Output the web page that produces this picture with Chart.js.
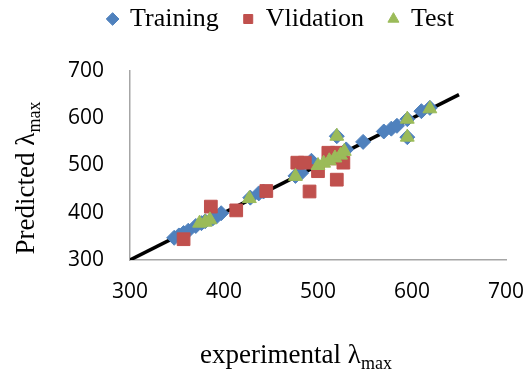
<!DOCTYPE html>
<html>
<head>
<meta charset="utf-8">
<script src="https://cdn.jsdelivr.net/npm/chart.js@4.4.1/dist/chart.umd.min.js"></script>
<style>
  html, body { margin: 0; padding: 0; background: #fff; }
  #wrap { width: 528px; height: 374px; }
</style>
</head>
<body>
<div id="wrap"><canvas id="chart" width="528" height="374"></canvas></div>
<script>
/* =========================
   DATA
========================= */
const trainingX = [347, 352, 357, 362, 370, 376, 380, 388, 392, 397, 428, 437, 442, 476, 482, 493, 520, 530, 548, 570, 578, 584, 595, 595, 610, 619];
const trainingY = [347, 352, 357, 362, 372, 378, 382, 388, 392, 399, 432, 441, 445, 478, 484, 510, 562, 534, 550, 572, 578, 584, 598, 560, 615, 622];

const validationX = [357, 386, 413, 445, 478, 486, 491, 500, 511, 515, 520, 527, 520];
const validationY = [344, 413, 405, 446, 506, 506, 445, 488, 527, 515, 527, 506, 470];

const testX = [374, 380, 385, 427, 476, 500, 506, 512, 518, 524, 528, 520, 595, 595, 619];
const testY = [378, 380, 385, 430, 477, 500, 505, 510, 516, 522, 530, 562, 598, 560, 620];

const lineX = [300, 650];
const lineY = [300, 650];

const ticks = [300, 400, 500, 600, 700];

function pairs(xs, ys) {
  return xs.map((x, i) => ({ x: x, y: ys[i] }));
}

/* =========================
   AXIS TITLES (with subscript)
========================= */
function drawTitle(ctx, main, sub, x, y, angle) {
  ctx.save();
  ctx.translate(x, y);
  ctx.rotate(angle);
  ctx.fillStyle = "#000";
  ctx.textBaseline = "alphabetic";
  ctx.textAlign = "left";
  ctx.font = "27px 'Liberation Serif'";
  const w1 = ctx.measureText(main).width;
  ctx.font = "18px 'Liberation Serif'";
  const w2 = ctx.measureText(sub).width;
  const start = -(w1 + w2) / 2;
  ctx.font = "27px 'Liberation Serif'";
  ctx.fillText(main, start, 0);
  ctx.font = "18px 'Liberation Serif'";
  ctx.fillText(sub, start + w1, 6);
  ctx.restore();
}

const axisTitles = {
  id: "axisTitles",
  afterDraw(chart) {
    const ctx = chart.ctx;
    drawTitle(ctx, "experimental λ", "max", 296, 363, 0);
    drawTitle(ctx, "Predicted λ", "max", 34, 178, -Math.PI / 2);
  }
};

/* =========================
   CHART
========================= */
const tickFont = { family: "'Open Sans'", size: 21 };

new Chart(document.getElementById("chart"), {
  type: "scatter",
  data: {
    datasets: [
      {
        label: "Training",
        data: pairs(trainingX, trainingY),
        pointStyle: "rectRot",
        pointRadius: 7.5,
        backgroundColor: "#4F81BD",
        borderColor: "#4F81BD",
        borderWidth: 1,
        order: 3
      },
      {
        label: "Vlidation",
        data: pairs(validationX, validationY),
        pointStyle: "rect",
        pointRadius: 9,
        backgroundColor: "#C0504D",
        borderColor: "#C0504D",
        borderWidth: 1,
        order: 2
      },
      {
        label: "Test",
        data: pairs(testX, testY),
        pointStyle: "triangle",
        pointRadius: 8,
        backgroundColor: "#9BBB59",
        borderColor: "#9BBB59",
        borderWidth: 1,
        order: 1
      },
      {
        label: "fit",
        type: "line",
        data: pairs(lineX, lineY),
        borderColor: "#000",
        borderWidth: 3.5,
        pointRadius: 0,
        fill: false,
        order: 4
      }
    ]
  },
  options: {
    responsive: false,
    animation: false,
    layout: { padding: { top: -19, left: 52, right: 18, bottom: 0 } },
    plugins: {
      tooltip: { enabled: false },
      legend: {
        position: "top",
        weight: 3000,
        labels: {
          usePointStyle: true,
          boxWidth: 9,
          boxHeight: 9,
          padding: 25,
          color: "#000",
          font: { family: "'Liberation Serif'", size: 26 },
          filter: (item) => item.text !== "fit",
          sort: (a, b) => a.datasetIndex - b.datasetIndex
        }
      },
      title: {
        display: true,
        text: " ",
        weight: 2000,
        font: { size: 10, lineHeight: 1 },
        padding: { top: 0, bottom: 19 }
      }
    },
    scales: {
      x: {
        type: "linear",
        min: 300,
        max: 700,
        afterBuildTicks: (axis) => { axis.ticks = ticks.map(v => ({ value: v })); },
        afterFit: (axis) => { axis.height = 114; axis.paddingRight = 22; axis.paddingLeft = 0; },
        grid: { display: false, drawTicks: false },
        border: { display: true, color: "#A6A6A6", width: 1.5 },
        ticks: { font: tickFont, color: "#000", padding: 19 }
      },
      y: {
        type: "linear",
        min: 300,
        max: 700,
        afterBuildTicks: (axis) => { axis.ticks = ticks.map(v => ({ value: v })); },
        afterFit: (axis) => { axis.width = 78; },
        grid: { display: false, drawTicks: false },
        border: { display: true, color: "#A6A6A6", width: 1.5 },
        ticks: { font: tickFont, color: "#000", padding: 26 }
      }
    }
  },
  plugins: [axisTitles]
});
</script>
</body>
</html>
